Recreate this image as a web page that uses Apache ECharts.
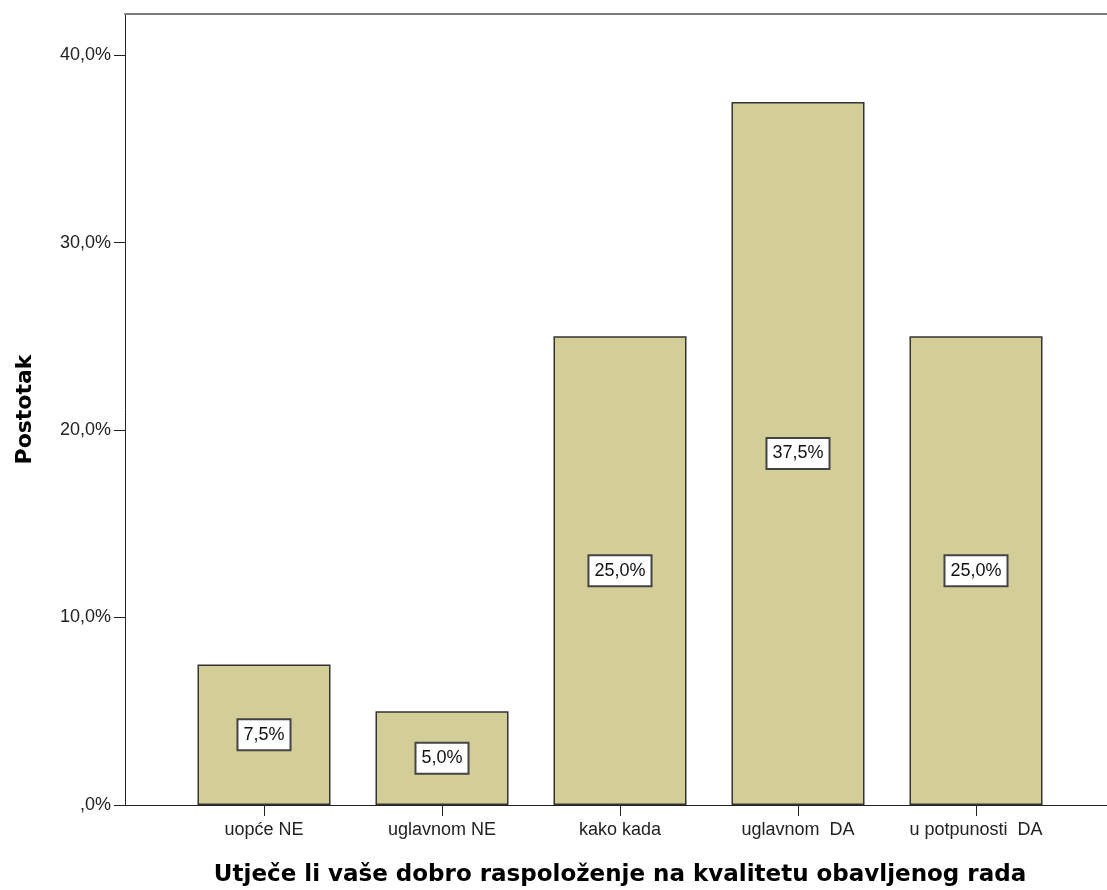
<!DOCTYPE html>
<html>
<head>
<meta charset="utf-8">
<script src="https://cdn.jsdelivr.net/npm/echarts@6/dist/echarts.min.js"></script>
<style>
    html, body { margin: 0; padding: 0; background: #fff; }
    #chart { width: 1107px; height: 890px; }
</style>
</head>
<body>
<div id="chart"></div>
<script>
// podaci
const categories = ['uopće NE', 'uglavnom NE', 'kako kada', 'uglavnom  DA', 'u potpunosti  DA'];
const percentValues = [7.5, 5.0, 25.0, 37.5, 25.0];
const yTickValues = [0, 10, 20, 30, 40];

const yMax = 42.19;

function fmtPct(v) {
    // SPSS stil: ,0% / 10,0%
    let s = v.toFixed(1).replace('.', ',');
    if (s.startsWith('0,')) s = s.substring(1);
    return s + '%';
}

const chart = echarts.init(document.getElementById('chart'));

const option = {
    animation: false,
    backgroundColor: '#ffffff',
    textStyle: { fontFamily: 'Liberation Sans, Arial, sans-serif' },
    grid: [
        { left: 175, right: 42, top: 14, bottom: 85, outerBoundsMode: 'none', containLabel: false },
        { left: 125, right: 0, top: 14, bottom: 85, outerBoundsMode: 'none', containLabel: false }
    ],
    xAxis: [
        {
            type: 'category',
            gridIndex: 0,
            data: categories,
            axisLine: { show: false },
            axisTick: { show: true, alignWithLabel: true, length: 11, lineStyle: { color: '#222', width: 1 } },
            axisLabel: { color: '#222', fontSize: 18, margin: 16 },
            name: 'Utječe li vaše dobro raspoloženje na kvalitetu obavljenog rada',
            nameLocation: 'middle',
            nameGap: 59,
            nameTextStyle: { fontFamily: 'DejaVu Sans', fontWeight: 'bold', fontSize: 23, color: '#000' }
        },
        {
            type: 'value',
            gridIndex: 1,
            min: 0,
            max: 1,
            axisLine: { show: true, lineStyle: { color: '#222', width: 1 } },
            axisTick: { show: false },
            axisLabel: { show: false },
            splitLine: { show: false }
        },
        {
            type: 'value',
            gridIndex: 1,
            position: 'top',
            min: 0,
            max: 1,
            axisLine: { show: true, lineStyle: { color: '#7a7a7a', width: 2 } },
            axisTick: { show: false },
            axisLabel: { show: false },
            splitLine: { show: false }
        }
    ],
    yAxis: [
        {
            type: 'value',
            gridIndex: 0,
            min: 0,
            max: yMax,
            interval: 10,
            show: false,
            splitLine: { show: false }
        },
        {
            type: 'value',
            gridIndex: 1,
            min: 0,
            max: yMax,
            interval: 10,
            axisLine: { show: true, lineStyle: { color: '#222', width: 1 } },
            axisTick: { show: true, length: 11, lineStyle: { color: '#222' } },
            axisLabel: {
                color: '#222',
                fontSize: 18,
                margin: 14,
                showMaxLabel: false,
                formatter: function (v) {
                    return yTickValues.indexOf(v) >= 0 ? fmtPct(v) : '';
                }
            },
            splitLine: { show: false },
            name: 'Postotak',
            nameLocation: 'middle',
            nameGap: 89,
            nameRotate: 90,
            nameTextStyle: { fontFamily: 'DejaVu Sans', fontWeight: 'bold', fontSize: 22, color: '#000' }
        }
    ],
    series: [
        {
            type: 'bar',
            xAxisIndex: 0,
            yAxisIndex: 0,
            data: percentValues,
            barWidth: 133,
            itemStyle: { color: '#d3ce98', borderColor: '#333', borderWidth: 1.5 },
            label: {
                show: true,
                position: 'inside',
                formatter: function (p) { return fmtPct(p.value); },
                color: '#111',
                fontSize: 18,
                backgroundColor: '#ffffff',
                borderColor: '#444',
                borderWidth: 2,
                padding: [6, 5, 5, 5]
            }
        }
    ]
};

chart.setOption(option);
</script>
</body>
</html>
